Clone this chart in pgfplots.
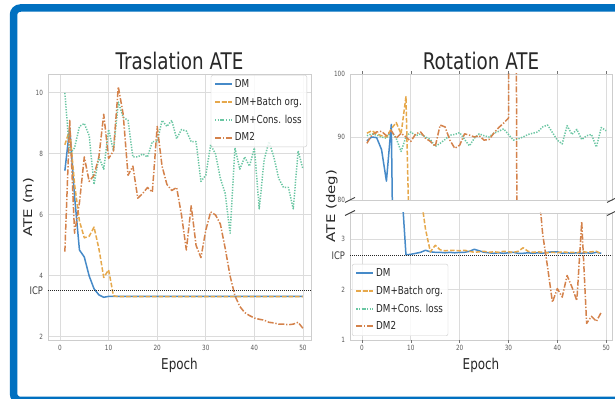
\documentclass[border=0pt]{standalone}
\usepackage{fontspec}
\setmainfont{DejaVu Sans}[FakeStretch=0.8]
\newfontfamily\plainfont{DejaVu Sans}
\usepackage{graphicx}
\usepackage{pgfplots}
\usepackage{pgfplotstable}
\pgfplotsset{compat=1.18}

\definecolor{cDM}{RGB}{70,138,200}
\definecolor{cBatch}{RGB}{230,168,75}
\definecolor{cCons}{RGB}{105,198,162}
\definecolor{cDMtwo}{RGB}{212,130,75}
\definecolor{frameblue}{RGB}{0,112,192}
\definecolor{gridc}{RGB}{220,220,220}
\definecolor{spinec}{RGB}{205,205,205}
\definecolor{txt}{RGB}{40,40,40}

\newcommand\ticksize{\fontsize{7.2pt}{8.5pt}\selectfont}
\newcommand\legsize{\fontsize{11pt}{13pt}\selectfont}
\newcommand\titlesize{\fontsize{23pt}{27pt}\selectfont}
\newcommand\labsize{\fontsize{15pt}{18pt}\selectfont}
\newcommand\icpsize{\fontsize{10.5pt}{12pt}\selectfont}

\pgfplotstableread{
ep dm batch cons dmtwo
1 7.45 8.3 10.0 4.8
2 8.85 8.8 8.0 9.1
3 6.6 7.0 8.2 5.4
4 4.85 5.8 8.9 6.4
5 4.62 5.25 9.0 7.9
6 4.0 5.3 8.6 7.1
7 3.58 5.6 7.0 7.3
8 3.38 4.9 7.9 7.9
9 3.3 3.95 7.5 9.3
10 3.33 4.2 8.8 7.85
11 3.33 3.35 8.1 8.1
12 3.33 3.32 9.7 10.2
13 3.33 3.32 9.2 9.3
14 3.33 3.32 9.1 7.3
15 3.33 3.32 7.9 7.6
16 3.33 3.32 7.9 6.55
17 3.33 3.32 8.0 6.7
18 3.33 3.32 7.9 6.9
19 3.33 3.32 8.4 6.75
20 3.33 3.32 8.4 8.9
21 3.33 3.32 9.1 7.6
22 3.33 3.32 8.9 7.0
23 3.33 3.32 9.1 6.8
24 3.33 3.32 8.5 6.9
25 3.33 3.32 8.8 6.0
26 3.33 3.32 8.75 4.85
27 3.33 3.32 8.4 6.3
28 3.33 3.32 8.4 5.0
29 3.33 3.32 7.1 4.6
30 3.33 3.32 7.3 5.5
31 3.33 3.32 8.3 6.1
32 3.33 3.32 8.0 6.0
33 3.33 3.32 7.2 5.7
34 3.33 3.32 6.7 4.9
35 3.33 3.32 5.4 4.0
36 3.33 3.32 8.2 3.35
37 3.33 3.32 7.5 3.0
38 3.33 3.32 7.9 2.8
39 3.33 3.32 7.6 2.7
40 3.33 3.32 8.2 2.62
41 3.33 3.32 6.2 2.58
42 3.33 3.32 7.8 2.55
43 3.33 3.32 8.4 2.48
44 3.33 3.32 7.9 2.46
45 3.33 3.32 7.2 2.42
46 3.33 3.32 6.9 2.42
47 3.33 3.32 6.9 2.4
48 3.33 3.32 6.2 2.42
49 3.33 3.32 8.1 2.48
50 3.33 3.32 7.5 2.28
}\lefttab

\pgfplotstableread{
ep dm batch cons dmtwo
1 89.4 90.6 90.2 89.0
2 90.0 91.0 90.5 90.3
3 89.9 90.5 90.3 90.8
4 88.0 90.2 90.0 90.9
5 83.0 90.0 89.8 90.2
6 92.0 91.3 90.9 91.0
7 32 92.3 89.8 89.8
8 4.2 90.5 87.7 90.6
9 2.69 96.4 90.0 90.0
10 2.70 63 90.8 89.3
11 2.72 20 90.2 90.5
12 2.74 3.9 90.5 90.8
13 2.78 3.2 90.0 89.8
14 2.75 2.75 89.6 89.3
15 2.74 2.88 88.5 88.5
16 2.74 2.79 89.0 91.9
17 2.73 2.77 89.6 91.6
18 2.74 2.78 90.3 89.5
19 2.73 2.78 90.4 88.2
20 2.74 2.77 90.7 88.7
21 2.74 2.78 89.6 90.5
22 2.76 2.76 88.6 90.3
23 2.80 2.74 89.8 90.0
24 2.77 2.75 90.5 90.2
25 2.74 2.76 90.2 89.5
26 2.73 2.74 90.0 89.6
27 2.72 2.75 90.6 90.6
28 2.73 2.74 90.9 91.5
29 2.72 2.76 91.3 92.2
30 2.73 2.75 90.4 93.0
31 2.74 2.74 89.5 250
32 2.72 2.76 89.7 10
33 2.72 2.83 90.0 8
34 2.73 2.76 90.4 6
35 2.72 2.74 90.6 5
36 2.73 2.75 90.8 4.2
37 2.72 2.74 91.6 3.1
38 2.74 2.73 91.9 2.45
39 2.75 2.74 90.7 1.75
40 2.75 2.73 89.5 2.02
41 2.72 2.75 88.9 1.85
42 2.73 2.74 91.8 2.28
43 2.72 2.74 90.4 2.05
44 2.73 2.73 91.2 1.78
45 2.72 2.76 89.6 3.35
46 2.73 2.74 90.2 1.33
47 2.72 2.75 90.4 1.47
48 2.74 2.76 88.4 1.37
49 2.72 2.71 91.5 1.55
50 nan nan 91.0 nan
}\righttab

\tikzset{
 sDM/.style={draw=cDM, line width=1.5bp, solid},
 sBatch/.style={draw=cBatch, line width=1.5bp, dash pattern=on 4.5bp off 2bp},
 sCons/.style={draw=cCons, line width=1.5bp, dash pattern=on 1.3bp off 1.4bp},
 sDMtwo/.style={draw=cDMtwo, line width=1.5bp, dash pattern=on 6bp off 1.8bp on 1.3bp off 1.8bp},
 brk/.style={draw=black!75, line width=0.9bp},
 tk/.style={draw=black!55, line width=0.6bp, solid},
}

\pgfplotsset{
 myax/.style={
  scale only axis, anchor=south west,
  xtick={0,10,20,30,40,50},
  axis line style={draw=spinec, line width=0.9bp},
  grid=major,
  major grid style={draw=gridc, line width=0.9bp},
  tick label style={font=\ticksize, text=black!65},
  /pgf/number format/assume math mode=true,
  ytick style={draw=none},
  xtick style={draw=none},
  clip mode=individual,
  every axis plot/.append style={line join=round, no markers},
  legend cell align=left,
  legend style={font=\legsize, text=txt, draw=spinec, fill=white, fill opacity=0.85, text opacity=1, rounded corners=2bp, inner xsep=3bp, inner ysep=2.5bp, row sep=4bp},
  legend image code/.code={\draw[mark repeat=2,mark phase=2, line width=2bp] plot coordinates {(0bp,0bp)(8.5bp,0bp)(17bp,0bp)};},
  xticklabel style={yshift=-2bp},
  yticklabel style={xshift=-1.5bp},
  title style={font=\titlesize, text=txt, at={(0.5,1)}, anchor=base, yshift=-1bp},
  xlabel style={font=\labsize, text=txt, at={(0.5,0)}, anchor=base, yshift=-29bp},
 },
}

\begin{document}
\begin{tikzpicture}
\useasboundingbox (0,0) rectangle (615bp,399bp);
\clip (0,0) rectangle (615bp,399bp);
\fill[white] (0,0) rectangle (615bp,399bp);

% ---------- Left: Traslation ATE ----------
\begin{axis}[myax, at={(48bp,59bp)}, width=263bp, height=266bp,
  xmin=-2.47, xmax=51.65, ymin=1.9, ymax=10.62, ytick={2,4,6,8,10},
  title={Traslation ATE}, xlabel={Epoch},
  extra y ticks={3.51}, extra y tick labels={ICP},
  extra y tick style={grid=none, yticklabel style={font=\icpsize, text=black!75}},
  legend style={at={(1,1)}, anchor=north east, xshift=-4bp, yshift=-1bp}]
\addplot[sDM] table[x=ep, y=dm]{\lefttab}; \addlegendentry{DM}
\addplot[sBatch] table[x=ep, y=batch]{\lefttab}; \addlegendentry{DM+Batch org.}
\addplot[sCons] table[x=ep, y=cons]{\lefttab}; \addlegendentry{DM+Cons. loss}
\addplot[sDMtwo] table[x=ep, y=dmtwo]{\lefttab}; \addlegendentry{DM2}
\addplot[forget plot, black!85, line width=1.1bp, dash pattern=on 1bp off 1bp] coordinates {(-2.47,3.51) (51.65,3.51)};
\end{axis}

% ---------- Right top ----------
\begin{axis}[myax, at={(350bp,199bp)}, width=262bp, height=126bp,
  xmin=-2.46, xmax=51.2, ymin=80, ymax=100, ytick={80,90,100},
  xticklabels={}, title={Rotation ATE}]
\addplot[sCons] table[x=ep, y=cons]{\righttab};
\addplot[sDM] table[x=ep, y=dm]{\righttab};
\addplot[sBatch] table[x=ep, y=batch]{\righttab};
\addplot[sDMtwo] table[x=ep, y=dmtwo]{\righttab};
\pgfplotsinvokeforeach{0,10,20,30,40,50}{\draw[tk] (axis cs:#1,100) -- ([yshift=3bp]axis cs:#1,100);}
\draw[brk] ([xshift=-5bp,yshift=-2.5bp]rel axis cs:0,0) -- ([xshift=5bp,yshift=2.5bp]rel axis cs:0,0);
\draw[brk] ([xshift=-5bp,yshift=-2.5bp]rel axis cs:1,0) -- ([xshift=5bp,yshift=2.5bp]rel axis cs:1,0);
\end{axis}

% ---------- Right bottom ----------
\begin{axis}[myax, at={(350bp,59bp)}, width=262bp, height=127bp,
  xmin=-2.46, xmax=51.2, ymin=1, ymax=3.52, ytick={1,2,3},
  xlabel={Epoch},
  extra y ticks={2.67}, extra y tick labels={ICP},
  extra y tick style={grid=none, yticklabel style={font=\icpsize, text=black!75}},
  legend style={at={(0,0)}, anchor=south west, xshift=2bp, yshift=4bp}]
\addplot[sDM] table[x=ep, y=dm]{\righttab}; \addlegendentry{DM}
\addplot[sBatch] table[x=ep, y=batch]{\righttab}; \addlegendentry{DM+Batch org.}
\addplot[sCons] table[x=ep, y=cons]{\righttab}; \addlegendentry{DM+Cons. loss}
\addplot[sDMtwo] table[x=ep, y=dmtwo]{\righttab}; \addlegendentry{DM2}
\addplot[forget plot, black!85, line width=1.1bp, dash pattern=on 1bp off 1bp] coordinates {(-2.46,2.67) (51.2,2.67)};
\pgfplotsinvokeforeach{0,10,20,30,40,50}{\draw[tk] (axis cs:#1,1) -- ([yshift=-3bp]axis cs:#1,1);}
\draw[brk] ([xshift=-5bp,yshift=-2.5bp]rel axis cs:0,1) -- ([xshift=5bp,yshift=2.5bp]rel axis cs:0,1);
\draw[brk] ([xshift=-5bp,yshift=-2.5bp]rel axis cs:1,1) -- ([xshift=5bp,yshift=2.5bp]rel axis cs:1,1);
\end{axis}

% y labels
\node[rotate=90, anchor=base, text=txt, inner sep=0pt] at (32bp,192bp) {\plainfont\labsize\scalebox{1}[0.8]{ATE (m)}};
\node[rotate=90, anchor=base, text=txt, inner sep=0pt] at (335bp,193bp) {\plainfont\labsize\scalebox{1}[0.8]{ATE (deg)}};

% frame
\draw[frameblue, line width=7.5bp, rounded corners=7bp] (13.5bp,-1.5bp) rectangle (640bp,391bp);
\end{tikzpicture}
\end{document}
